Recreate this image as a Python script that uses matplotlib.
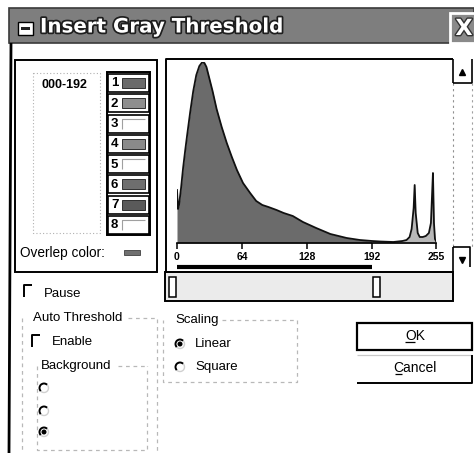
import matplotlib
matplotlib.use('Agg')
import matplotlib.pyplot as plt
import matplotlib.patches as mpatches
import matplotlib.patheffects as pe

# --------------------------------------------------
# DATA

# gray level histogram: sample levels and their heights
levels = [0, 1, 2, 4, 6, 8, 10, 13, 16, 19, 22, 25, 27, 29, 32, 35, 39, 44, 49,
          54, 59, 65, 72, 78, 84, 90, 98, 105, 114, 124, 137, 151, 167, 180, 192,
          200, 213, 222, 226, 229, 231, 233, 234, 235, 237, 239, 242, 245, 248,
          250, 251, 252, 253, 254, 255]
counts = [53, 34, 38, 55, 75, 92, 108, 131, 152, 168, 177, 181, 180, 176, 164,
          152, 134, 116, 100, 86, 73, 60, 50, 42, 38, 36, 33, 30, 27, 21, 15, 9,
          5, 3, 2, 1.5, 1, 2, 3, 6, 14, 35, 58, 30, 10, 6, 6, 7, 10, 20, 45, 70,
          20, 4, 2]

threshold_lo = 0
threshold_hi = 192
tick_values = [0, 64, 128, 192, 255]

title = 'Insert Gray Threshold'
range_label = '000-192'
slot_numbers = ['1', '2', '3', '4', '5', '6', '7', '8']
slot_colors = ['#6a6a6a', '#8e8e8e', None, '#8a8a8a', None, '#6e6e6e', '#5a5a5a', None]

# --------------------------------------------------
# FIGURE: one pixel-space axes for the dialog, one axes for the histogram

fig = plt.figure(figsize=(4.74, 4.53), dpi=100)
ax = fig.add_axes([0, 0, 1, 1])
ax.set_xlim(0, 474)
ax.set_ylim(453, 0)
ax.axis('off')

UI = 'Liberation Sans'


def rect(x0, y0, x1, y1, **kw):
    kw.setdefault('fc', 'none')
    kw.setdefault('ec', 'black')
    kw.setdefault('lw', 1.2)
    ax.add_patch(mpatches.Rectangle((x0, y0), x1 - x0, y1 - y0, **kw))


def line(xs, ys, **kw):
    kw.setdefault('color', 'black')
    kw.setdefault('lw', 1.2)
    ax.plot(xs, ys, solid_capstyle='butt', **kw)


def label(x, y, s, size=9.5, **kw):
    kw.setdefault('family', UI)
    ax.text(x, y, s, fontsize=size, va='center', **kw)


def checkbox(x, y):
    line([x, x, x + 8], [y + 6, y - 6, y - 6], lw=1.4)


def radio(x, y, selected=False):
    ax.add_patch(mpatches.Arc((x, y), 9, 9, theta1=135, theta2=315, color='black', lw=1.4))
    ax.add_patch(mpatches.Arc((x, y), 9, 9, theta1=315, theta2=135, color='#d0d0d0', lw=1.0))
    if selected:
        ax.add_patch(mpatches.Circle((x, y), 1.8, color='black'))


def dashed(xs, ys):
    line(xs, ys, color='#b8b8b8', lw=0.9, ls=(0, (3, 3)))


# title bar
rect(9, 8, 474, 43, fc='#7e7e7e', ec='#3a3a3a', lw=1.2)
rect(18, 22, 33, 35, fc='white', ec='black', lw=1)
rect(21, 27, 30, 30, fc='#222222', ec='none')
ax.text(40, 27, title, color='white', fontsize=14.3, fontweight='bold',
        family='DejaVu Sans', va='center',
        path_effects=[pe.withStroke(linewidth=2.5, foreground='#1e1e1e')])
rect(450, 13, 476, 43, fc='#8a8a8a', ec='white', lw=2)
ax.text(464, 29, 'X', color='white', fontsize=16, fontweight='bold',
        family='DejaVu Sans', va='center', ha='center',
        path_effects=[pe.withStroke(linewidth=2, foreground='#333333')])

# dialog left border
line([11, 9], [43, 453], lw=2)

# left panel with range list and colour slots
rect(15, 60, 157, 272, lw=1.4)
rect(33, 73, 100, 233, ec='#b0b0b0', lw=0.8, ls=(0, (1, 2)))
label(42, 85, range_label, size=9, fontweight='bold')
rect(107, 72, 150, 235, lw=1.4)
for i, (num, col) in enumerate(zip(slot_numbers, slot_colors)):
    y0 = 73 + i * 20.25
    rect(108, y0 + 1, 149, y0 + 19, lw=1.2)
    label(111, y0 + 10.5, num, size=9.5, fontweight='bold')
    if col:
        rect(122, y0 + 5, 145, y0 + 15, fc=col, ec='#303030', lw=0.7)
    else:
        line([122, 122, 145], [y0 + 15, y0 + 5, y0 + 5], color='#a0a0a0', lw=0.8)
label(20, 253, 'Overlep color:', size=9.8)
rect(124, 250, 140, 255, fc='#707070', ec='#404040', lw=0.6)

# histogram panel frame and scroll bar
line([453, 166, 166, 453], [59, 59, 272, 272], lw=1.4)
line([453, 453], [59, 83], lw=1.2)
line([453, 453], [83, 247], color='#909090', lw=0.8, ls=(0, (2, 3)))
line([453, 453], [247, 272], lw=1.2)
line([453, 472, 472], [83, 83, 59], lw=1.2)
line([472, 472], [83, 247], color='#a0a0a0', lw=0.8, ls=(0, (2, 3)))
line([453, 470, 470], [247, 247, 267], lw=1.2)
ax.plot([462], [72], marker='^', ms=4.5, color='black')
ax.plot([462], [260], marker='v', ms=4.5, color='black')

# slider
rect(165, 272, 453, 301, fc='#ebebeb', lw=1.4)

# histogram
hx0, hx1, hy0, hy1 = 177, 436, 243, 62
ax_h = fig.add_axes([hx0 / 474, (453 - hy0) / 453, (hx1 - hx0) / 474, (hy0 - hy1) / 453])
ax_h.set_xlim(0, 255)
ax_h.set_ylim(0, 181)
ax_h.patch.set_alpha(0)

k = levels.index(threshold_hi)
ax_h.fill_between(levels[:k + 1], counts[:k + 1], color='#6b6b6b', lw=0)
ax_h.fill_between(levels[k:], counts[k:], color='#b8b8b8', lw=0)
ax_h.plot(levels, counts, color='#111111', lw=1.3)

for side in ['left', 'right', 'top']:
    ax_h.spines[side].set_visible(False)
ax_h.spines['bottom'].set_linewidth(1.2)
ax_h.set_yticks([])
ax_h.set_xticks(tick_values)
ax_h.set_xticklabels([str(v) for v in tick_values])
ax_h.tick_params(axis='x', direction='out', length=4, width=1.1, pad=2.5,
                 labelsize=7.5)
for t in ax_h.get_xticklabels():
    t.set_fontfamily(UI)
    t.set_fontweight('bold')

# selected range bar and slider handles, placed on the histogram's x scale
xt = ax_h.get_xaxis_transform()
ax_h.plot([threshold_lo, threshold_hi], [-0.13, -0.13], transform=xt,
          clip_on=False, color='black', lw=3, solid_capstyle='butt')
for x0 in [threshold_lo - 8, threshold_hi + 1]:
    ax_h.add_patch(mpatches.Rectangle((x0, -0.3), 7, 0.11, transform=xt,
                                      fc='white', ec='black', lw=1.1,
                                      clip_on=False))

# Pause and Auto Threshold group
checkbox(24, 291)
label(44, 294, 'Pause')
dashed([22, 22], [318, 453])
dashed([128, 157, 157], [318, 318, 453])
label(33, 318, 'Auto Threshold')
checkbox(32, 341)
label(52, 342, 'Enable')
label(41, 366, 'Background')
dashed([37, 37, 147, 147], [366, 450, 450, 366])
dashed([118, 147], [366, 366])
radio(44, 388)
radio(44, 411)
radio(44, 432, selected=True)

# Scaling group
label(175, 320, 'Scaling')
dashed([222, 297, 297, 163, 163], [320, 320, 382, 382, 320])
radio(180, 344, selected=True)
label(195, 344, 'Linear')
radio(180, 367)
label(195, 367, 'Square')

# buttons
rect(357, 323, 472, 350, lw=1.6)
ax.text(415, 336, 'OK', fontsize=10, family=UI, ha='center', va='center')
line([405, 415], [342, 342], lw=0.9)
line([357, 472], [355, 355], color='#c8c8c8', lw=0.9)
line([472, 472, 357], [355, 383, 383], lw=1.4)
ax.text(415, 368, 'Cancel', fontsize=10, family=UI, ha='center', va='center')
line([395, 402], [374, 374], lw=0.9)

fig.savefig('out.png', dpi=100)
